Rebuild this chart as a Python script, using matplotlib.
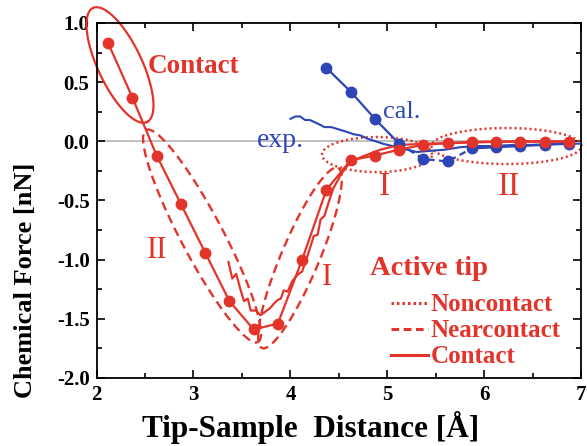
import numpy as np
import matplotlib
matplotlib.use("Agg")
import matplotlib.pyplot as plt
from matplotlib.lines import Line2D
from matplotlib.ticker import MultipleLocator

plt.rcParams['font.family'] = ['Liberation Serif', 'DejaVu Serif']

RED = '#e3342b'
BLUE = '#2d45b5'

# ---- data ----
x_calc = [2.12, 2.37, 2.62, 2.87, 3.12, 3.37, 3.62, 3.87, 4.12, 4.37,
          4.62, 4.87, 5.12, 5.37, 5.62, 5.87, 6.12, 6.37, 6.62, 6.87]
f_contact = [0.83, 0.37, -0.12, -0.53, -0.94, -1.35, -1.59, -1.54, -1.00, -0.41,
             -0.16, -0.12, -0.07, -0.03, -0.015, -0.005, -0.003, -0.003, -0.003, -0.005]

x_cal = [4.37, 4.62, 4.87, 5.12, 5.37, 5.62, 5.87, 6.12, 6.37, 6.62, 6.87]
f_cal = [0.62, 0.42, 0.19, -0.02, -0.15, -0.17, -0.06, -0.05, -0.04, -0.03, -0.02]

x_exp_red = [3.36, 3.40, 3.44, 3.48, 3.52, 3.56, 3.59, 3.64, 3.69, 3.74, 3.79, 3.83, 3.87,
             3.90, 3.93, 3.97, 4.02, 4.07, 4.12, 4.17, 4.21, 4.24, 4.28, 4.31, 4.35,
             4.38, 4.44, 4.52, 4.62, 4.77, 4.93, 5.13, 5.44, 5.86, 6.37, 6.89]
f_exp_red = [-1.02, -1.16, -1.12, -1.24, -1.35, -1.33, -1.43, -1.43, -1.47, -1.44, -1.41, -1.37, -1.34,
             -1.33, -1.26, -1.27, -1.18, -1.13, -1.10, -0.98, -0.88, -0.80, -0.79, -0.66, -0.63,
             -0.55, -0.40, -0.28, -0.17, -0.12, -0.07, -0.03, -0.02, -0.01, 0.0, 0.0]

x_exp_blue = [4.00, 4.05, 4.10, 4.15, 4.20, 4.28, 4.35, 4.42, 4.50, 4.58, 4.65, 4.72, 4.80,
              4.88, 4.95, 5.05, 5.15, 5.30, 5.45, 5.60, 5.75, 5.90, 6.10, 6.30, 6.50, 6.70, 6.90, 7.00]
f_exp_blue = [0.19, 0.21, 0.21, 0.18, 0.18, 0.15, 0.12, 0.12, 0.10, 0.08, 0.06, 0.05, 0.02,
              0.00, -0.02, -0.04, -0.06, -0.09, -0.08, -0.07, -0.05, -0.04, -0.04, -0.03, -0.03, -0.02, -0.02, -0.02]

# ellipse annotations: centre, semi-axis vectors (data units)
ell_contact = dict(c=(2.242, 0.645), u=(0.278, -0.482), v=(0.205, 0.079))
ell_near_II = dict(c=(3.088, -0.800), u=(0.577, -0.896), v=(0.192, 0.083))
ell_near_I = dict(c=(4.098, -0.986), u=(0.392, 0.761), v=(0.180, -0.063))
ell_non_I = dict(c=(4.892, -0.112), u=(0.567, 0.0), v=(0.0, 0.148))
ell_non_II = dict(c=(6.227, -0.040), u=(0.773, 0.0), v=(0.0, 0.152))

fig = plt.figure(figsize=(5.87, 4.46), dpi=100)
ax = fig.add_axes([0.1644, 0.1525, 0.8262, 0.7960])

ax.axhline(0, color='#b5b5b5', lw=1.2, zorder=0)

def ellipse(e, **kw):
    t = np.linspace(0, 2 * np.pi, 300)
    xs = e['c'][0] + e['u'][0] * np.cos(t) + e['v'][0] * np.sin(t)
    ys = e['c'][1] + e['u'][1] * np.cos(t) + e['v'][1] * np.sin(t)
    ax.plot(xs, ys, clip_on=False, **kw)

ellipse(ell_contact, color=RED, lw=1.6, ls='-')
ellipse(ell_near_II, color=RED, lw=1.7, ls=(0, (3.8, 2.2)))
ellipse(ell_near_I, color=RED, lw=1.7, ls=(0, (3.8, 2.2)))
ellipse(ell_non_I, color=RED, lw=1.8, ls=(0, (0.8, 1.2)))
ellipse(ell_non_II, color=RED, lw=1.8, ls=(0, (0.8, 1.2)))

# experimental curves
ax.plot(x_exp_blue, f_exp_blue, color=BLUE, lw=1.5, zorder=3)
ax.plot(x_exp_red, f_exp_red, color=RED, lw=1.6, zorder=3)

# calculated curves
xc = np.array(x_cal); fc = np.array(f_cal)
ax.plot(xc[:4], fc[:4], color=BLUE, lw=1.6, zorder=4)
ax.plot(xc[3:7], fc[3:7], color=BLUE, lw=1.6, ls=(0, (3, 2)), zorder=4)
ax.plot(xc[6:], fc[6:], color=BLUE, lw=1.6, zorder=4)
ax.plot(xc, fc, ls='none', marker='o', ms=7.5, color=BLUE, zorder=5)
ax.plot(x_calc, f_contact, color=RED, lw=1.6, marker='o', ms=7.5, zorder=6)

# labels
ax.text(2.53, 0.577, 'Contact', color=RED, fontsize=19.5, fontweight='bold')
ax.text(3.655, -0.05, 'exp.', color=BLUE, fontsize=20)
ax.text(4.95, 0.196, 'cal.', color=BLUE, fontsize=19)
ax.text(2.62, -0.92, 'II', color=RED, fontsize=22, ha='center', va='center')
ax.text(4.376, -1.155, 'I', color=RED, fontsize=22, ha='center', va='center')
ax.text(4.97, -0.386, 'I', color=RED, fontsize=24, ha='center', va='center')
ax.text(6.25, -0.386, 'II', color=RED, fontsize=24, ha='center', va='center')
ax.text(4.82, -1.13, 'Active tip', color=RED, fontsize=20.5, fontweight='bold')

handles = [Line2D([], [], color=RED, lw=2.2, ls=(0, (0.8, 1.0))),
           Line2D([], [], color=RED, lw=2.2, ls=(0, (2.5, 1.5))),
           Line2D([], [], color=RED, lw=2.2, ls='-')]
leg = ax.legend(handles, ['Noncontact', 'Nearcontact', 'Contact'], loc='center left',
                bbox_to_anchor=(0.607, 0.133), frameon=False, borderpad=0, borderaxespad=0,
                handlelength=1.5, handletextpad=0.1, labelspacing=0.12,
                prop={'weight': 'bold', 'size': 18}, labelcolor=RED)

ax.set_xlim(2, 7)
ax.set_ylim(-2.0, 1.0)
ax.xaxis.set_major_locator(MultipleLocator(1))
ax.xaxis.set_minor_locator(MultipleLocator(0.5))
ax.yaxis.set_major_locator(MultipleLocator(0.5))
ax.yaxis.set_minor_locator(MultipleLocator(0.25))
ax.yaxis.set_major_formatter(matplotlib.ticker.FormatStrFormatter('%.1f'))
ax.tick_params(which='both', direction='in', top=True, right=True, width=1.2)
ax.tick_params(which='major', length=6, labelsize=15, pad=5)
ax.tick_params(which='minor', length=3.5)
for lab in ax.get_xticklabels() + ax.get_yticklabels():
    lab.set_fontweight('bold')
for s in ax.spines.values():
    s.set_linewidth(1.3)

ax.set_xlabel('Tip-Sample  Distance [Å]', fontsize=22.5, fontweight='bold')
ax.set_ylabel('Chemical Force [nN]', fontsize=19, fontweight='bold')
ax.xaxis.set_label_coords(0.442, -0.14)
ax.yaxis.set_label_coords(-0.147, 0.276)
ax.xaxis.label.set_va('center')
ax.yaxis.label.set_va('center')

fig.savefig('out.png', dpi=100)
